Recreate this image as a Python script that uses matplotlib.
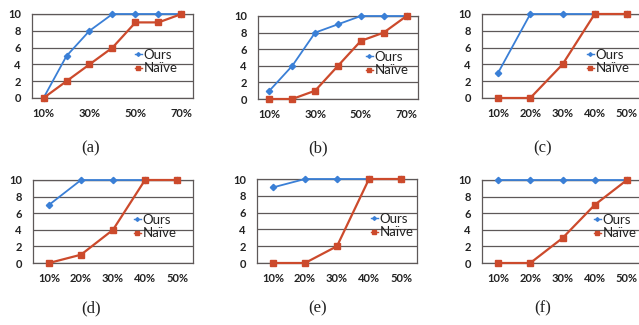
import matplotlib
matplotlib.use("Agg")
import matplotlib.pyplot as plt

W, H = 639, 325
DPI = 100

cats7 = ["10%", "20%", "30%", "40%", "50%", "60%", "70%"]
cats5 = ["10%", "20%", "30%", "40%", "50%"]

ours_a = [0, 5, 8, 10, 10, 10, 10]
naive_a = [0, 2, 4, 6, 9, 9, 10]
ours_b = [1, 4, 8, 9, 10, 10, 10]
naive_b = [0, 0, 1, 4, 7, 8, 10]
ours_c = [3, 10, 10, 10, 10]
naive_c = [0, 0, 4, 10, 10]
ours_d = [7, 10, 10, 10, 10]
naive_d = [0, 1, 4, 10, 10]
ours_e = [9, 10, 10, 10, 10]
naive_e = [0, 0, 2, 10, 10]
ours_f = [10, 10, 10, 10, 10]
naive_f = [0, 0, 3, 7, 10]

captions = ["(a)", "(b)", "(c)", "(d)", "(e)", "(f)"]
yticks = [0, 2, 4, 6, 8, 10]

BLUE = "#3a7fd6"
RED = "#cc4a2c"
GRID = "#5e5858"
TXT = "#222222"
FONT = "Lato"

fig = plt.figure(figsize=(W / DPI, H / DPI), dpi=DPI)
fig.patch.set_facecolor("white")

# (left, right, top, bottom) in pixels, legend anchor (x, y), caption (x, y), label step
panels = [
    (cats7, ours_a, naive_a, (32, 193, 14, 98), (135, 49), (91, 148), 2),
    (cats7, ours_b, naive_b, (258, 418, 16, 99), (366, 51), (318, 148), 2),
    (cats5, ours_c, naive_c, (482, 643, 14, 98), (587, 49), (543, 148), 1),
    (cats5, ours_d, naive_d, (33, 193, 180, 263), (134, 214), (91, 308), 1),
    (cats5, ours_e, naive_e, (257, 417, 179, 263), (371, 213), (318, 308), 1),
    (cats5, ours_f, naive_f, (482, 643, 180, 263), (594, 214), (543, 308), 1),
]

for i, (cats, ours, naive, (l, r, t, b), (lx, ly), (cx, cy), step) in enumerate(panels):
    ax = fig.add_axes([l / W, 1 - b / H, (r - l) / W, (b - t) / H])
    x = list(range(len(cats)))
    ax.plot(x, ours, color=BLUE, lw=1.3, marker="D", ms=3.2, label="Ours",
            zorder=3, clip_on=False)
    ax.plot(x, naive, color=RED, lw=1.6, marker="s", ms=4.2, label="Naïve",
            zorder=3, clip_on=False)
    ax.set_xlim(-0.5, len(cats) - 0.5)
    ax.set_ylim(0, 10)
    ax.set_yticks(yticks)
    ax.set_yticklabels([str(v) for v in yticks], fontsize=8, family=FONT,
                       color=TXT, fontweight="bold")
    ax.set_xticks(x[::step])
    ax.set_xticklabels(cats[::step], fontsize=8, family=FONT, color=TXT,
                       fontweight="bold")
    ax.tick_params(axis="both", length=0)
    ax.tick_params(axis="y", pad=8)
    ax.tick_params(axis="x", pad=7)
    ax.grid(axis="y", color=GRID, lw=0.9)
    ax.set_axisbelow(True)
    for s in ax.spines.values():
        s.set_color(GRID)
        s.set_linewidth(0.9)
    leg = ax.legend(loc="upper left", bbox_to_anchor=(lx / W, 1 - ly / H),
                    bbox_transform=fig.transFigure, frameon=False,
                    handlelength=0.5, handletextpad=0.15, labelspacing=0.1,
                    borderpad=0, borderaxespad=0, markerscale=0.6,
                    prop={"family": FONT, "size": 9.5})
    for h in leg.legend_handles:
        h.set_linewidth(1.0)
    for txt in leg.get_texts():
        txt.set_color(TXT)
    fig.text(cx / W, 1 - cy / H, captions[i], ha="center", va="center",
             fontsize=12, family="Liberation Serif", color=TXT)

fig.savefig("out.png", dpi=DPI)
